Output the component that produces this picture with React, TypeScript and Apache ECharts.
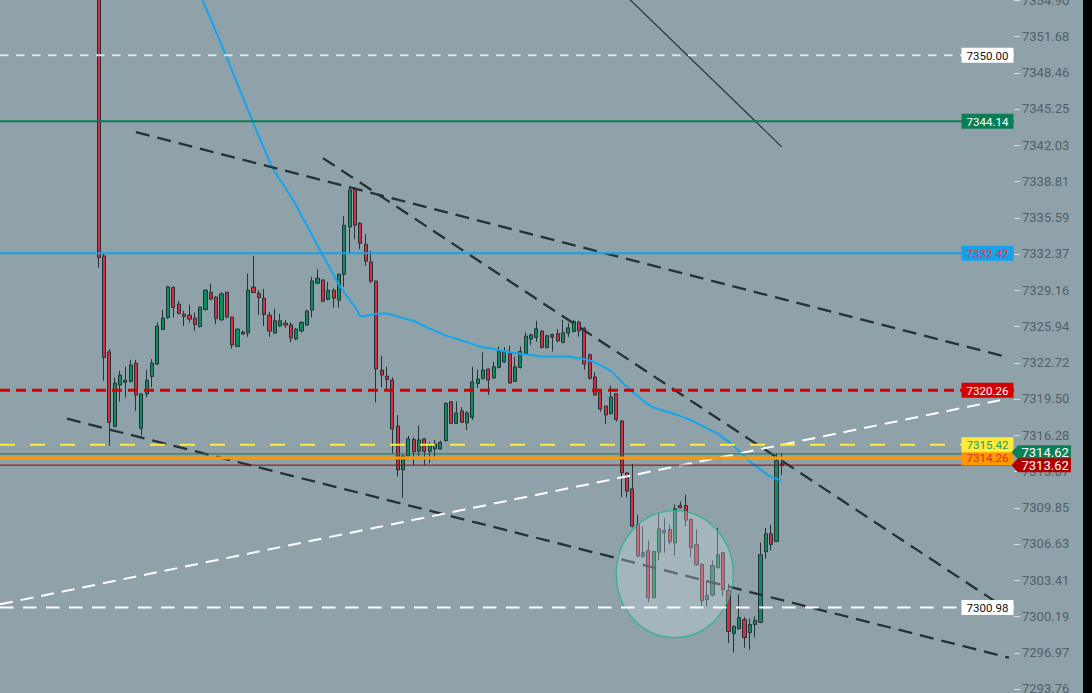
import React, { useEffect, useRef } from "react";
import * as echarts from "echarts";

const N_CAT = 190;
const FIRST_CANDLE = 18;

const OPEN = [
  7358.0, 7332.19, 7323.68, 7317.06, 7320.73, 7320.96, 7321.05, 7322.68, 7316.89, 7319.94,
  7321.49, 7322.59, 7325.66, 7326.72, 7329.38, 7327.91, 7327.02, 7326.93, 7326.67, 7325.92,
  7327.43, 7328.97, 7328.53, 7326.52, 7328.97, 7326.76, 7324.15, 7325.43, 7325.34, 7329.42,
  7328.88, 7328.44, 7326.93, 7325.34, 7325.98, 7326.22, 7326.07, 7324.81, 7325.54, 7326.05,
  7327.38, 7329.77, 7330.06, 7328.35, 7329.15, 7328.26, 7330.57, 7334.76, 7338.10, 7335.08,
  7333.22, 7331.66, 7329.95, 7322.06, 7321.53, 7321.17, 7317.10, 7313.20, 7314.44, 7315.89,
  7314.85, 7315.95, 7314.85, 7315.06, 7315.06, 7315.80, 7319.25, 7317.33, 7318.43, 7317.36,
  7317.86, 7320.87, 7321.32, 7322.15, 7321.35, 7322.29, 7322.77, 7323.53, 7321.05, 7322.29,
  7323.53, 7324.81, 7324.95, 7325.52, 7324.06, 7325.21, 7325.28, 7324.51, 7325.34, 7325.48,
  7326.31, 7325.78, 7323.42, 7321.44, 7320.11, 7318.87, 7318.22, 7319.96, 7317.54, 7312.93,
  7311.52, 7308.33, 7305.52, 7306.05, 7301.86, 7305.90, 7307.82, 7307.91, 7306.73, 7310.04,
  7310.04, 7308.80, 7306.56, 7304.81, 7301.68, 7302.09, 7304.52, 7305.85, 7302.51, 7298.67,
  7299.11, 7299.91, 7298.76, 7299.47, 7299.67, 7305.94, 7307.53, 7306.85, 7313.75,
];
const CLOSE = [
  7332.04, 7323.18, 7317.42, 7320.91, 7321.62, 7321.17, 7322.50, 7319.85, 7319.94, 7321.17,
  7322.68, 7325.96, 7326.67, 7329.44, 7327.61, 7327.08, 7326.81, 7326.58, 7326.10, 7327.64,
  7329.15, 7328.35, 7326.63, 7328.82, 7326.78, 7324.28, 7325.69, 7325.25, 7329.15, 7328.94,
  7328.49, 7326.99, 7325.52, 7326.43, 7326.43, 7326.05, 7324.90, 7325.69, 7326.28, 7327.31,
  7329.97, 7330.21, 7328.17, 7329.15, 7328.44, 7330.57, 7334.91, 7338.03, 7334.91, 7333.31,
  7331.72, 7329.95, 7322.15, 7321.62, 7321.23, 7316.83, 7313.20, 7314.44, 7315.95, 7314.82,
  7315.86, 7314.85, 7315.44, 7315.50, 7315.65, 7319.10, 7317.33, 7318.25, 7317.42, 7318.25,
  7321.02, 7321.26, 7322.06, 7321.17, 7322.35, 7323.71, 7323.71, 7320.91, 7322.35, 7323.71,
  7325.07, 7325.19, 7325.72, 7324.06, 7325.10, 7324.98, 7324.66, 7325.37, 7325.81, 7326.37,
  7325.54, 7322.59, 7321.32, 7319.85, 7318.60, 7318.07, 7319.67, 7317.66, 7312.93, 7311.31,
  7308.20, 7305.55, 7305.85, 7301.86, 7305.96, 7307.97, 7307.62, 7306.82, 7309.74, 7309.83,
  7308.74, 7306.29, 7304.78, 7301.60, 7302.04, 7304.70, 7305.67, 7302.57, 7298.85, 7299.29,
  7300.09, 7298.32, 7299.47, 7299.85, 7305.67, 7307.53, 7306.58, 7314.02, 7313.60,
];
const LOW = [
  7331.15, 7321.11, 7315.35, 7316.96, 7319.28, 7319.63, 7320.96, 7318.45, 7316.24, 7319.63,
  7320.52, 7322.50, 7325.60, 7326.60, 7326.72, 7327.00, 7325.98, 7326.28, 7325.54, 7325.83,
  7327.35, 7328.25, 7326.14, 7326.43, 7326.63, 7323.97, 7324.10, 7325.20, 7325.01, 7328.90,
  7326.96, 7325.98, 7325.01, 7325.30, 7325.90, 7325.80, 7324.51, 7324.70, 7325.39, 7326.00,
  7326.72, 7329.68, 7328.10, 7328.25, 7327.61, 7327.61, 7329.44, 7332.48, 7333.67, 7332.78,
  7331.30, 7329.77, 7319.19, 7320.52, 7320.29, 7314.67, 7312.61, 7310.72, 7314.40, 7313.58,
  7314.41, 7313.58, 7313.79, 7314.26, 7315.00, 7315.70, 7317.28, 7317.30, 7317.38, 7316.74,
  7317.63, 7320.47, 7321.20, 7319.85, 7321.30, 7322.20, 7322.70, 7320.85, 7321.00, 7322.20,
  7323.50, 7324.28, 7324.57, 7323.97, 7323.97, 7323.71, 7324.51, 7324.45, 7325.01, 7325.40,
  7325.01, 7322.09, 7321.20, 7319.80, 7318.37, 7317.28, 7318.10, 7317.50, 7310.77, 7310.77,
  7308.10, 7305.45, 7305.40, 7301.47, 7301.80, 7305.17, 7305.85, 7306.58, 7305.61, 7309.80,
  7308.20, 7305.46, 7304.70, 7301.12, 7301.12, 7302.00, 7304.45, 7302.00, 7297.84, 7296.99,
  7299.00, 7297.43, 7297.25, 7298.32, 7299.60, 7305.32, 7306.05, 7306.80, 7312.73,
];
const HIGH = [
  7358.5, 7332.35, 7323.92, 7321.40, 7322.00, 7322.35, 7322.97, 7322.97, 7320.00, 7322.09,
  7323.03, 7326.31, 7327.40, 7329.53, 7329.50, 7328.20, 7327.31, 7327.85, 7327.16, 7327.70,
  7329.24, 7329.73, 7328.60, 7329.00, 7329.00, 7326.80, 7325.75, 7325.60, 7330.62, 7332.21,
  7329.15, 7329.26, 7327.23, 7327.49, 7327.05, 7326.50, 7326.28, 7325.80, 7326.40, 7327.40,
  7330.33, 7331.00, 7330.10, 7329.88, 7329.30, 7330.60, 7335.73, 7338.24, 7338.30, 7335.20,
  7334.11, 7332.63, 7330.00, 7323.33, 7322.35, 7321.41, 7318.07, 7314.50, 7316.24, 7316.09,
  7317.13, 7316.00, 7315.65, 7315.86, 7315.80, 7319.19, 7319.30, 7319.28, 7318.75, 7318.40,
  7322.35, 7322.09, 7323.62, 7322.20, 7322.80, 7324.13, 7324.10, 7324.21, 7323.24, 7324.15,
  7325.39, 7325.30, 7326.43, 7325.60, 7325.20, 7325.30, 7325.69, 7326.52, 7326.22, 7326.52,
  7326.43, 7325.90, 7323.53, 7321.85, 7320.20, 7318.90, 7320.67, 7320.00, 7317.60, 7313.00,
  7313.73, 7309.21, 7308.18, 7306.94, 7306.00, 7309.39, 7308.91, 7308.33, 7310.13, 7310.39,
  7311.01, 7308.90, 7307.91, 7304.90, 7303.39, 7305.17, 7308.06, 7305.90, 7303.10, 7299.40,
  7302.15, 7300.14, 7300.00, 7300.20, 7306.73, 7308.06, 7308.33, 7314.70, 7314.70,
];

// moving average, starting at candle 17
const MA_START = 17;
const MA = [
  7357.67, 7356.55, 7355.43, 7354.29, 7353.17, 7352.04, 7350.91, 7349.78, 7348.62, 7347.43,
  7346.27, 7345.11, 7343.93, 7342.81, 7341.71, 7340.58, 7339.65, 7338.93, 7338.19, 7337.46,
  7336.68, 7335.78, 7334.90, 7334.03, 7333.12, 7332.25, 7331.38, 7330.49, 7329.63, 7328.94,
  7328.30, 7327.68, 7326.84, 7326.87, 7326.96, 7327.05, 7327.08, 7327.08, 7326.96, 7326.78,
  7326.67, 7326.54, 7326.43, 7326.20, 7325.97, 7325.74, 7325.54, 7325.33, 7325.13, 7324.98,
  7324.84, 7324.68, 7324.54, 7324.37, 7324.21, 7324.09, 7324.01, 7323.92, 7323.82, 7323.73,
  7323.64, 7323.57, 7323.50, 7323.44, 7323.39, 7323.33, 7323.27, 7323.27, 7323.27, 7323.27,
  7323.27, 7323.26, 7323.18, 7323.11, 7323.03, 7322.91, 7322.73, 7322.49, 7322.24, 7321.97,
  7321.50, 7321.02, 7320.55, 7320.11, 7319.73, 7319.34, 7318.99, 7318.72, 7318.57, 7318.43,
  7318.30, 7318.14, 7317.97, 7317.79, 7317.61, 7317.36, 7317.12, 7316.89, 7316.64, 7316.40,
  7316.06, 7315.71, 7315.35, 7314.88, 7314.41, 7313.94, 7313.58, 7313.23, 7312.87, 7312.55,
  7312.40, 7312.25,
];

const Y_TICKS = [
  7293.76, 7296.97, 7300.19, 7303.41, 7306.63, 7309.85, 7313.07, 7316.28, 7319.5, 7322.72,
  7325.94, 7329.16, 7332.37, 7335.59, 7338.81, 7342.03, 7345.25, 7348.46, 7351.68, 7354.9,
];

// horizontal levels
const LEVELS = [7350.0, 7344.14, 7332.42, 7320.26, 7315.42, 7314.62, 7314.26, 7313.62, 7300.98];
const LEVEL_STYLES = [
  { color: "#dde3e6", width: 2, type: [8.5, 7.5] },
  { color: "#0b7d55", width: 2, type: "solid" },
  { color: "#15a2ea", width: 2, type: "solid" },
  { color: "#d50000", width: 3, type: [10, 6] },
  { color: "#ffeb3b", width: 2, type: [15, 15] },
  { color: "#0b7d55", width: 1, type: "solid" },
  { color: "#ff9800", width: 3, type: "solid" },
  { color: "#9a0000", width: 1, type: "solid" },
  { color: "#ffffff", width: 2, type: [13.5, 9.5] },
];

// boxed labels on the right edge of the plot (drawn in this order)
const BOX_VALUES = [7350.0, 7344.14, 7332.42, 7320.26, 7314.26, 7315.42, 7300.98];
const BOX_STYLES = [
  { bg: "#ffffff", fg: "#111111" },
  { bg: "#0b7d55", fg: "#ffffff" },
  { bg: "#15a2ea", fg: "#e53935" },
  { bg: "#d50000", fg: "#ffffff" },
  { bg: "#ff9800", fg: "#d32f2f" },
  { bg: "#ffeb3b", fg: "#1e9e52" },
  { bg: "#ffffff", fg: "#111111" },
];

// price tags on the axis
const TAG_VALUES = [7314.62, 7313.62];
const TAG_COLORS = ["#0b8058", "#b00000"];

// trend lines: [category position, price]
const TREND_A = [[24.98, 7343.17], [188.38, 7323.19]];
const TREND_B = [[60.02, 7340.87], [187.4, 7301.08]];
const TREND_C = [[12.05, 7317.74], [188.57, 7296.53]];
const THIN_LINE = [[117.2, 7355.09], [145.97, 7341.87]];
const WHITE_RISING = [[-0.5, 7301.27], [186.88, 7319.38]];

const CIRCLE_CENTER = [125.93, 7303.95];

export default function App() {
  const ref = useRef<HTMLDivElement>(null);

  useEffect(() => {
    if (!ref.current) return;
    const chart = echarts.init(ref.current, undefined, { renderer: "svg" });
    const cats = Array.from({ length: N_CAT }, (_, i) => String(i));
    const candles = OPEN.map((o, i) => [FIRST_CANDLE + i, o, CLOSE[i], LOW[i], HIGH[i]]);
    const maData = MA.map((v, i) => [FIRST_CANDLE + MA_START + i, v]);

    const dashed = { color: "#263035", width: 2.3, type: [14, 8] };

    const series: any[] = [
      {
        type: "candlestick",
        xAxisIndex: 0,
        yAxisIndex: 0,
        data: candles,
        encode: { x: 0, y: [1, 2, 3, 4] },
        barWidth: 3.6,
        clip: true,
        z: 3,
        itemStyle: {
          color: "#0b8d5c",
          color0: "#d32f3f",
          borderColor: "#263238",
          borderColor0: "#263238",
          borderWidth: 1,
        },
      },
      {
        type: "line",
        xAxisIndex: 1,
        yAxisIndex: 0,
        data: maData,
        symbol: "none",
        clip: true,
        z: 4,
        lineStyle: { color: "#12a6ef", width: 2 },
      },
      ...[TREND_A, TREND_B, TREND_C].map((d) => ({
        type: "line",
        xAxisIndex: 1,
        yAxisIndex: 0,
        data: d,
        symbol: "none",
        clip: true,
        z: 4,
        lineStyle: dashed,
      })),
      {
        type: "line",
        xAxisIndex: 1,
        yAxisIndex: 0,
        data: THIN_LINE,
        symbol: "none",
        clip: true,
        z: 4,
        lineStyle: { color: "#263238", width: 1.2 },
      },
      {
        type: "line",
        xAxisIndex: 1,
        yAxisIndex: 0,
        data: WHITE_RISING,
        symbol: "none",
        clip: true,
        z: 4,
        lineStyle: { color: "#ffffff", width: 2, type: [13, 8] },
      },
      {
        type: "scatter",
        xAxisIndex: 1,
        yAxisIndex: 0,
        data: [CIRCLE_CENTER],
        symbol: "path://M0,50a50,50 0 1,0 100,0a50,50 0 1,0 -100,0Z",
        symbolSize: [117, 127],
        silent: true,
        z: 6,
        itemStyle: {
          color: "rgba(210,222,226,0.4)",
          borderColor: "#1cb486",
          borderWidth: 1.3,
        },
      },
      ...LEVELS.map((v, i) => ({
        type: "line",
        xAxisIndex: 1,
        yAxisIndex: 0,
        data: [
          [-0.5, v],
          [N_CAT - 0.5, v],
        ],
        symbol: "none",
        clip: true,
        z: 7,
        lineStyle: LEVEL_STYLES[i],
      })),
    ];

    chart.setOption({
      animation: false,
      backgroundColor: "#8fa2aa",
      grid: {
        left: 0,
        right: 78,
        top: 0,
        bottom: 0,
        containLabel: false,
        outerBoundsMode: "none",
      },
      xAxis: [
        {
          type: "category",
          data: cats,
          show: false,
          boundaryGap: true,
          axisTick: { show: false },
          axisLabel: { show: false },
          axisLine: { show: false },
        },
        {
          type: "value",
          min: -0.5,
          max: N_CAT - 0.5,
          show: false,
          splitLine: { show: false },
          axisTick: { show: false },
          axisLabel: { show: false },
          axisLine: { show: false },
        },
      ],
      yAxis: {
        type: "value",
        position: "right",
        min: 7293.4,
        max: 7354.9,
        splitLine: { show: false },
        axisLine: { show: false },
        axisTick: { show: false },
        axisLabel: {
          customValues: Y_TICKS,
          formatter: (v: number) => v.toFixed(2),
          color: "#535f66",
          fontSize: 13,
          fontFamily: "Roboto",
          margin: 8,
        },
      },
      series,
    });

    const yPix = (v: number) => chart.convertToPixel({ yAxisIndex: 0 }, v) as number;
    const g: any[] = [];
    // axis tick marks, placed through the y scale
    Y_TICKS.forEach((v) => {
      const y = Math.round(yPix(v)) + 0.5;
      g.push({
        type: "line",
        shape: { x1: 1014, y1: y, x2: 1020, y2: y },
        style: { stroke: "#d9e0e3", lineWidth: 1 },
        z: 90,
      });
    });
    BOX_VALUES.forEach((v, i) => {
      const yc = yPix(v);
      g.push({
        type: "rect",
        shape: { x: 961.5, y: yc - 7.5, width: 52, height: 15 },
        style: { fill: BOX_STYLES[i].bg },
        z: 100,
      });
      g.push({
        type: "text",
        x: 987.5,
        y: yc + 0.5,
        style: {
          text: v.toFixed(2),
          fill: BOX_STYLES[i].fg,
          fontSize: 11.5,
          fontFamily: "Roboto",
          align: "center",
          verticalAlign: "middle",
        },
        z: 101,
      });
    });
    const yRed = yPix(TAG_VALUES[1]);
    TAG_VALUES.forEach((v, i) => {
      let yc = yPix(v);
      if (i === 0) yc = Math.min(yc, yRed - 13);
      g.push({
        type: "polygon",
        shape: {
          points: [
            [1011.5, yc],
            [1018, yc - 7],
            [1071, yc - 7],
            [1071, yc + 7],
            [1018, yc + 7],
          ],
        },
        style: { fill: TAG_COLORS[i] },
        z: 102 + i * 2,
      });
      g.push({
        type: "text",
        x: 1021.5,
        y: yc + 0.5,
        style: {
          text: v.toFixed(2),
          fill: "#ffffff",
          fontSize: 13,
          fontFamily: "Roboto",
          align: "left",
          verticalAlign: "middle",
        },
        z: 103 + i * 2,
      });
    });
    g.push({
      type: "rect",
      shape: { x: 1083, y: 0, width: 9, height: 693 },
      style: { fill: "#000000" },
      z: 110,
    });
    chart.setOption({ graphic: g });

    return () => chart.dispose();
  }, []);

  return (
    <div
      ref={ref}
      style={{ position: "fixed", left: 0, top: 0, width: 1092, height: 693 }}
    />
  );
}
